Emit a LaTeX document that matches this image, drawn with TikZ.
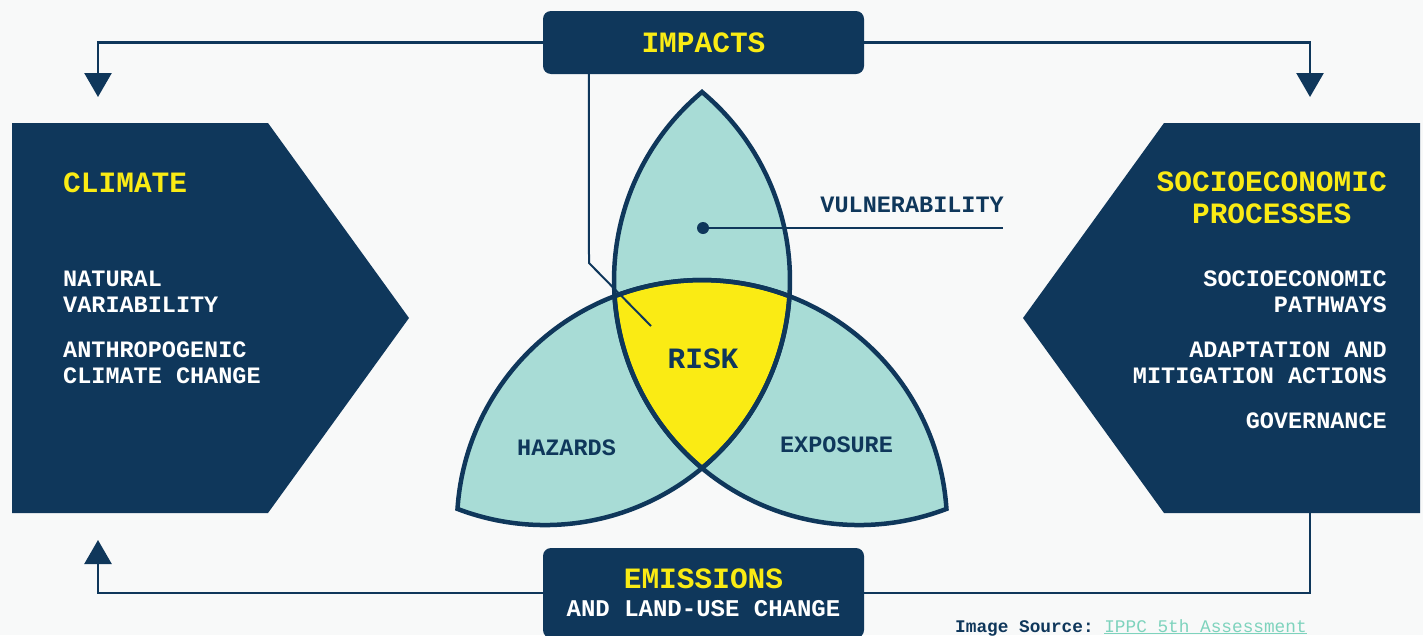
\documentclass[tikz,border=0pt]{standalone}
\usepackage{fontspec}
\setmonofont{Liberation Mono}
\usepackage{xcolor}
\usepackage{tikz}
\usetikzlibrary{calc,arrows.meta,positioning}
\definecolor{navy}{HTML}{0F375B}
\definecolor{petal}{HTML}{A8DCD6}
\definecolor{sun}{HTML}{FAEB14}
\definecolor{paper}{HTML}{F8F9F9}
\definecolor{mint}{HTML}{7ED3BD}
\newcommand\headfont{\ttfamily\bfseries\fontsize{29.5}{32}\selectfont}
\newcommand\itemfont{\ttfamily\bfseries\fontsize{23.5}{25.5}\selectfont}
\newcommand\subfont{\ttfamily\bfseries\fontsize{24}{28}\selectfont}
\newcommand\notefont{\ttfamily\fontsize{17.75}{20}\selectfont}
\tikzset{
  panel/.style={fill=navy},
  box/.style={fill=navy, rounded corners=8pt, minimum width=321pt, inner sep=0pt, text=sun},
  link/.style={draw=navy, line width=2.6pt},
  flow/.style={link, -{Triangle[length=24pt,width=27pt]}},
  lead/.style={draw=navy, line width=2pt},
  lens/.style={fill=petal},
  rim/.style={draw=navy, line width=4.5pt},
  dot/.style={circle, fill=navy, inner sep=0pt, minimum size=12pt},
  head/.style={text=sun, font=\headfont, inner sep=0pt},
  item/.style={text=white, font=\itemfont, inner sep=0pt},
  tag/.style={text=navy, font=\itemfont, inner sep=0pt}
}
% lens outlines (1pt = 1px, y downwards)
\newcommand\lensTop{(T1) arc[start angle=230.13, end angle=129.87, radius=245]
  arc[start angle=50.13, end angle=-50.13, radius=245] -- cycle}
\newcommand\lensHaz{(H1) arc[start angle=183.78, end angle=290.92, radius=245]
  arc[start angle=3.78, end angle=110.92, radius=245] -- cycle}
\newcommand\lensExp{(E2) arc[start angle=-110.92, end angle=-3.78, radius=245]
  arc[start angle=69.08, end angle=176.22, radius=245] -- cycle}

\begin{document}
\begin{tikzpicture}[x=1pt,y=-1pt]
  \useasboundingbox (0,0) rectangle (1423,635);
  \fill[paper] (0,0) rectangle (1423,635);

  % side panels
  \fill[panel] (12,123) -- (268,123) -- (409,318) -- (268,513) -- (12,513) -- cycle;
  \fill[panel] (1420,123) -- (1164,123) -- (1023,318) -- (1164,513) -- (1420,513) -- cycle;

  % base = baseline of the last line
  \node[head, anchor=base west] (climate) at (63,192) {CLIMATE};
  \node[item, anchor=base west, align=left] (natural) at (63,312) {NATURAL\\VARIABILITY};
  \node[item, anchor=base west, align=left] (anthro) at (63,383) {ANTHROPOGENIC\\CLIMATE CHANGE};

  \node[head, anchor=base east, align=center] (socio) at (1387,223) {SOCIOECONOMIC\\PROCESSES};
  \node[item, anchor=base east, align=right] (pathways) at (1387,312) {SOCIOECONOMIC\\PATHWAYS};
  \node[item, anchor=base east, align=right] (adapt) at (1387,383) {ADAPTATION AND\\MITIGATION ACTIONS};
  \node[item, anchor=base east] (govern) at (1387,428) {GOVERNANCE};

  % cycle
  \coordinate (climIn) at (98,97);
  \coordinate (climOut) at (98,540);
  \coordinate (socIn) at (1310,97);
  \coordinate (socOut) at (1310,513);

  \node[box, minimum height=63pt] (impacts) at (703.5,42.5) {\headfont IMPACTS};
  \node[box, minimum height=90pt, align=center, text=white, font=\subfont] (emissions) at (703.5,593)
    {{\headfont\color{sun}EMISSIONS}\\AND LAND-USE CHANGE};

  \draw[flow] (impacts.west) -| (climIn);
  \draw[flow] (impacts.east) -| (socIn);
  \draw[flow] (emissions.west) -| (climOut);
  \draw[link] (socOut) |- (emissions.east);

  % risk diagram
  \coordinate (T1) at (702,92);
  \coordinate (T2) at (702,468.1);
  \coordinate (H1) at (457.5,508.9);
  \coordinate (H2) at (789.5,296.2);
  \coordinate (E2) at (614.5,296.2);

  \fill[lens] \lensTop;
  \fill[lens] \lensHaz;
  \fill[lens] \lensExp;
  \fill[sun] (E2) arc[start angle=-110.92, end angle=-69.08, radius=245]
    arc[start angle=3.78, end angle=50.13, radius=245]
    arc[start angle=129.87, end angle=176.22, radius=245] -- cycle;
  \draw[rim] \lensTop;
  \draw[rim] \lensHaz;
  \draw[rim] \lensExp;

  \node[head, text=navy, anchor=base] (risk) at (703,368) {RISK};
  \node[tag, anchor=base] (hazards) at (566.5,455) {HAZARDS};
  \node[tag, anchor=base] (exposure) at (836.5,452) {EXPOSURE};

  \node[dot] (vdot) at (703,228) {};
  \coordinate (vend) at (1003,228);
  \draw[lead] (vdot) -- (vend);
  \node[tag, anchor=base east] (vuln) at (1004,212) {VULNERABILITY};

  \coordinate (bend) at (589,263);
  \coordinate (riskPin) at (651,326);
  \draw[lead] ([xshift=46pt]impacts.south west) -- (bend) -- (riskPin);

  \node[anchor=base west, inner sep=0pt, text=navy, font=\notefont] (source) at (955,632)
    {\bfseries Image Source: \mdseries\color{mint}\underline{IPPC 5th Assessment}};
\end{tikzpicture}
\end{document}
